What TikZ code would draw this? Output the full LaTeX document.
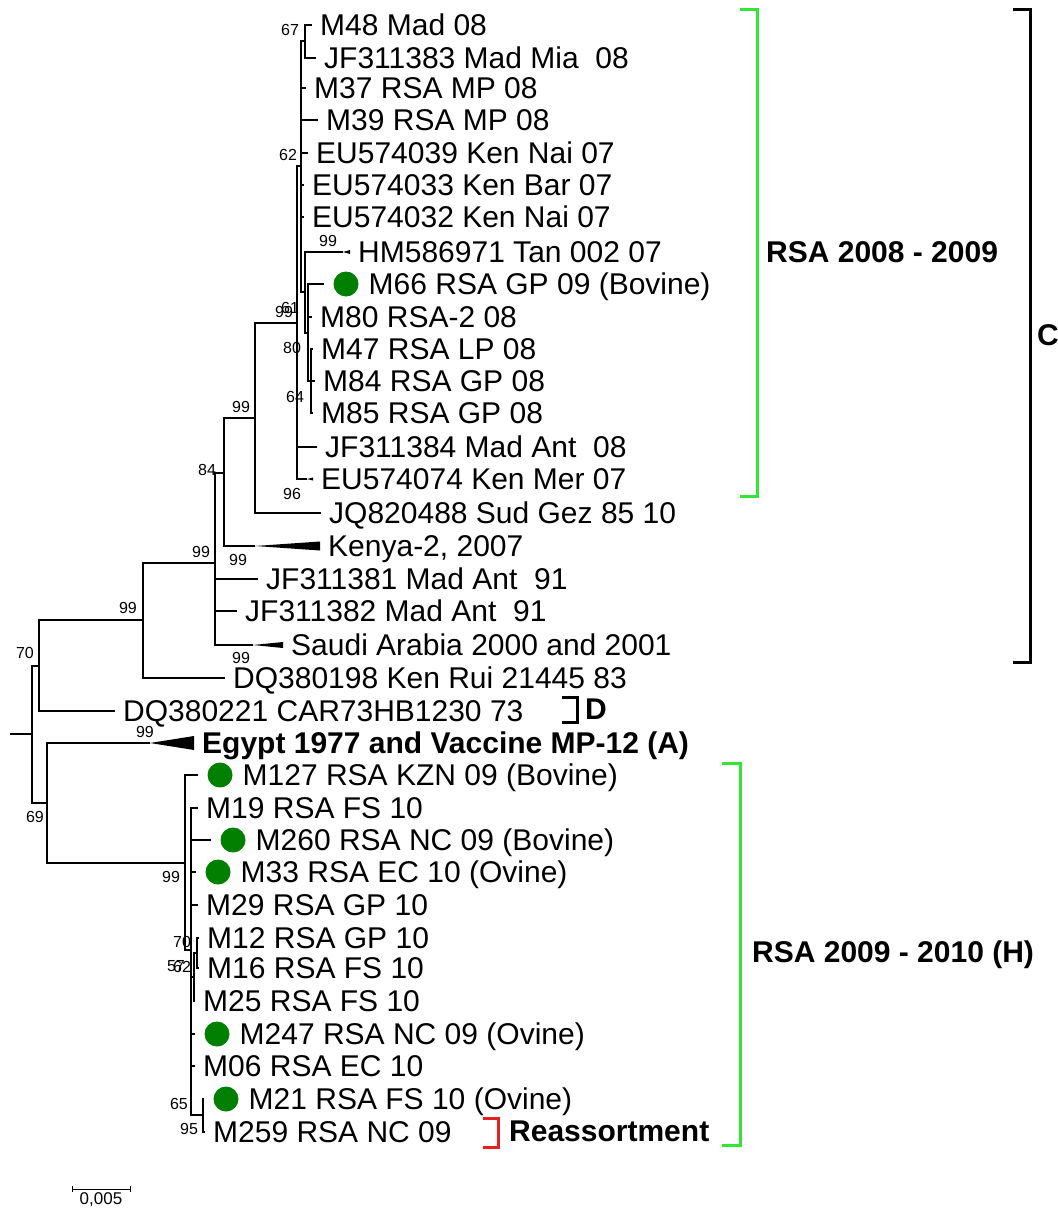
\documentclass[tikz,border=0pt]{standalone}
\usepackage{fontspec}
\setmainfont{Liberation Sans}
\usepackage{xcolor}
\definecolor{dotgreen}{HTML}{007F00}
\definecolor{cladegreen}{HTML}{33E633}
\definecolor{reassred}{HTML}{E62020}
\usepackage{tikz}
\usetikzlibrary{positioning}

\begin{document}
\begin{tikzpicture}[
  x=1pt, y=-1pt,
  branch/.style={line width=1.3pt},
  leaf/.style={
    anchor=west, inner xsep=8pt, inner ysep=0pt, text height=21pt, text depth=0pt,
    font=\fontsize{30}{36}\selectfont
  },
  dotlabel/.style={leaf, inner xsep=0pt},
  dot/.style={circle, fill=dotgreen, minimum size=25pt, inner sep=0pt, outer sep=10pt},
  boot/.style={inner sep=0pt, font=\fontsize{16}{18}\selectfont},
  clade/.style={line width=3pt},
  cladelabel/.style={
    anchor=west, inner sep=0pt, text height=21pt, text depth=0pt,
    font=\bfseries\fontsize{30}{36}\selectfont
  }
]
\useasboundingbox (0,0) rectangle (1057,1209);

% internal nodes
\coordinate (stub) at (10,734);
\coordinate (root) at (32,734);
\coordinate (n70) at (39,666);
\coordinate (n99a) at (143,620);
\coordinate (n99b) at (215,563);
\coordinate (n84) at (224,473);
\coordinate (n99c) at (255,418);
\coordinate (n96) at (297,323);
\coordinate (n62) at (301,166);
\coordinate (n67) at (305,41);
\coordinate (n61) at (305,292);
\coordinate (n80) at (308,333);
\coordinate (n64) at (311,381);
\coordinate (n69) at (47,803);
\coordinate (nH) at (185,863);
\coordinate (nH2) at (191,950);
\coordinate (n57) at (194,977);
\coordinate (n70b) at (197,953);
\coordinate (n65) at (203,1115);

% leaves, upper part
\node[leaf] (m48) at (312,25) {M48 Mad 08};
\node[leaf] (jf383) at (316,58) {JF311383 Mad Mia\ \ 08};
\node[leaf] (m37) at (306,88) {M37 RSA MP 08};
\node[leaf] (m39) at (318,120) {M39 RSA MP 08};
\node[leaf] (eu039) at (308,153) {EU574039 Ken Nai 07};
\node[leaf] (eu033) at (304,185) {EU574033 Ken Bar 07};
\node[leaf] (eu032) at (304,217) {EU574032 Ken Nai 07};
\coordinate (hmT) at (343,252);
\node[leaf] (hm) at (350,252) {HM586971 Tan 002 07};
\node[dot] (m66d) at (346,284) {};
\node[dotlabel, right=0pt of m66d] (m66) {M66 RSA GP 09 (Bovine)};
\node[leaf] (m80) at (312,317) {M80 RSA-2 08};
\node[leaf] (m47) at (313,349) {M47 RSA LP 08};
\node[leaf] (m84) at (315,381) {M84 RSA GP 08};
\node[leaf] (m85) at (313,413) {M85 RSA GP 08};
\node[leaf] (jf384) at (317,447) {JF311384 Mad Ant\ \ 08};
\coordinate (eu074T) at (307,479);
\node[leaf] (eu074) at (313,479) {EU574074 Ken Mer 07};
\node[leaf] (jq) at (321,513) {JQ820488 Sud Gez 85 10};
\coordinate (kenT) at (255,546);
\node[leaf] (ken) at (320,546) {Kenya-2, 2007};
\node[leaf] (jf381) at (258,579) {JF311381 Mad Ant\ \ 91};
\node[leaf] (jf382) at (237,611) {JF311382 Mad Ant\ \ 91};
\coordinate (sauT) at (253,645);
\node[leaf] (sau) at (283,645) {Saudi Arabia 2000 and 2001};
\node[leaf] (dq198) at (225,678) {DQ380198 Ken Rui 21445 83};
\node[leaf] (dq221) at (115,711) {DQ380221 CAR73HB1230 73};
\coordinate (egyT) at (150,743);
\node[leaf, font=\bfseries\fontsize{30}{36}\selectfont] (egy) at (194,743) {Egypt 1977 and Vaccine MP-12 (A)};

% leaves, lower part
\node[dot] (m127d) at (220,775) {};
\node[dotlabel, right=0pt of m127d] (m127) {M127 RSA KZN 09 (Bovine)};
\node[leaf] (m19) at (198,808) {M19 RSA FS 10};
\node[dot] (m260d) at (233,840) {};
\node[dotlabel, right=0pt of m260d] (m260) {M260 RSA NC 09 (Bovine)};
\node[dot] (m33d) at (218,872) {};
\node[dotlabel, right=0pt of m33d] (m33) {M33 RSA EC 10 (Ovine)};
\node[leaf] (m29) at (198,905) {M29 RSA GP 10};
\node[leaf] (m12) at (199,938) {M12 RSA GP 10};
\node[leaf] (m16) at (199,968) {M16 RSA FS 10};
\node[leaf] (m25) at (195,1001) {M25 RSA FS 10};
\node[dot] (m247d) at (217,1034) {};
\node[dotlabel, right=0pt of m247d] (m247) {M247 RSA NC 09 (Ovine)};
\node[leaf] (m06) at (195,1066) {M06 RSA EC 10};
\node[dot] (m21d) at (226,1099) {};
\node[dotlabel, right=0pt of m21d] (m21) {M21 RSA FS 10 (Ovine)};
\node[leaf] (m259) at (205,1132) {M259 RSA NC 09};

% branches
\draw[branch] (stub) -- (root);
\draw[branch] (root) |- (n70) (root) |- (n69);
\draw[branch] (n70) |- (n99a) (n70) |- (dq221.west);
\draw[branch] (n99a) |- (n99b) (n99a) |- (dq198.west);
\draw[branch] (n99b) |- (n84) (n99b) |- (jf381.west) (n99b) |- (jf382.west) (n99b) |- (sauT);
\draw[branch] (n84) |- (n99c) (n84) |- (kenT);
\draw[branch] (n99c) |- (n96) (n99c) |- (jq.west);
\draw[branch] (n96) |- (n62) (n96) |- (jf384.west) (n96) |- (eu074T);
\draw[branch] (n62) |- (n67) (n62) |- (m37.west) (n62) |- (m39.west) (n62) |- (eu039.west)
  (n62) |- (eu033.west) (n62) |- (eu032.west) (n62) |- (n61);
\draw[branch] (n67) |- (m48.west) (n67) |- (jf383.west);
\draw[branch] (n61) |- (hmT) (n61) |- (n80);
\draw[branch] (n80) |- (m66d.west) (n80) |- (m80.west) (n80) |- (n64);
\draw[branch] (n64) |- (m47.west) (n64) |- (m84.west) (n64) |- (m85.west);
\draw[branch] (n69) |- (egyT) (n69) |- (nH);
\draw[branch] (nH) |- (m127d.west) (nH) |- (nH2);
\draw[branch] (nH2) |- (m19.west) (nH2) |- (m260d.west) (nH2) |- (m33d.west) (nH2) |- (m29.west)
  (nH2) |- (n57) (nH2) |- (m247d.west) (nH2) |- (m06.west) (nH2) |- (n65);
\draw[branch] (n57) |- (n70b) (n57) |- (m25.west);
\draw[branch] (n70b) |- (m12.west) (n70b) |- (m16.west);
\draw[branch] (n65) |- (m21d.west) (n65) |- (m259.west);

% collapsed clades
\fill (hmT) -- ([yshift=2pt]hm.west) -- ([yshift=-2pt]hm.west) -- cycle;
\fill (eu074T) -- ([yshift=1.5pt]eu074.west) -- ([yshift=-1.5pt]eu074.west) -- cycle;
\fill (kenT) -- ([yshift=4.5pt]ken.west) -- ([yshift=-4.5pt]ken.west) -- cycle;
\fill (sauT) -- ([yshift=3pt]sau.west) -- ([yshift=-3pt]sau.west) -- cycle;
\fill (egyT) -- ([yshift=7pt]egy.west) -- ([yshift=-7pt]egy.west) -- cycle;

% bootstrap values
\node[boot] (b67) at (290,30) {67};
\node[boot] (b62) at (288,155) {62};
\node[boot] (b99hm) at (328,241) {99};
\node[boot] (b99m) at (284,312) {99};
\node[boot] (b61) at (290,308) {61};
\node[boot] (b80) at (292,348) {80};
\node[boot] (b64) at (295,397) {64};
\node[boot] (b96) at (292,494) {96};
\node[boot] (b99c) at (241,407) {99};
\node[boot] (b84) at (207,470) {84};
\node[boot] (b99k) at (238,560) {99};
\node[boot] (b99b) at (201,552) {99};
\node[boot] (b99a) at (128,608) {99};
\node[boot] (b70) at (25,653) {70};
\node[boot] (b99s) at (241,658) {99};
\node[boot] (b99e) at (145,732) {99};
\node[boot] (b69) at (35,817) {69};
\node[boot] (b99h) at (171,877) {99};
\node[boot] (b70b) at (182,942) {70};
\node[boot] (b57) at (176,966) {57};
\node[boot] (b62b) at (182,967) {62};
\node[boot] (b65) at (179,1104) {65};
\node[boot] (b95) at (189,1129) {95};

% clade brackets
\draw[clade, cladegreen] (740,10) -| (757,496) -- (740,496);
\node[cladelabel] (rsa0809) at (766,252) {RSA 2008 - 2009};
\draw[clade] (1013,10) -| (1030,662) -- (1013,662);
\node[cladelabel] (cladeC) at (1037,335) {C};
\draw[clade] (562,697) -| (577,722) -- (562,722);
\node[cladelabel] (cladeD) at (585,709) {D};
\draw[clade, cladegreen] (722,763) -| (740,1145) -- (722,1145);
\node[cladelabel] (rsa0910) at (752,952) {RSA 2009 - 2010 (H)};
\draw[clade, reassred] (483,1118) -| (498,1147) -- (483,1147);
\node[cladelabel] (reass) at (509,1131) {Reassortment};

% scale bar
\coordinate (sbL) at (72,1189);
\coordinate (sbR) at (130,1189);
\draw[line width=1pt] (sbL) -- (sbR);
\draw[line width=1pt] ([yshift=3pt]sbL) -- ([yshift=-3pt]sbL) ([yshift=3pt]sbR) -- ([yshift=-3pt]sbR);
\node[boot, font=\fontsize{17}{20}\selectfont] (scale) at (101,1200) {0,005};

\end{tikzpicture}
\end{document}
